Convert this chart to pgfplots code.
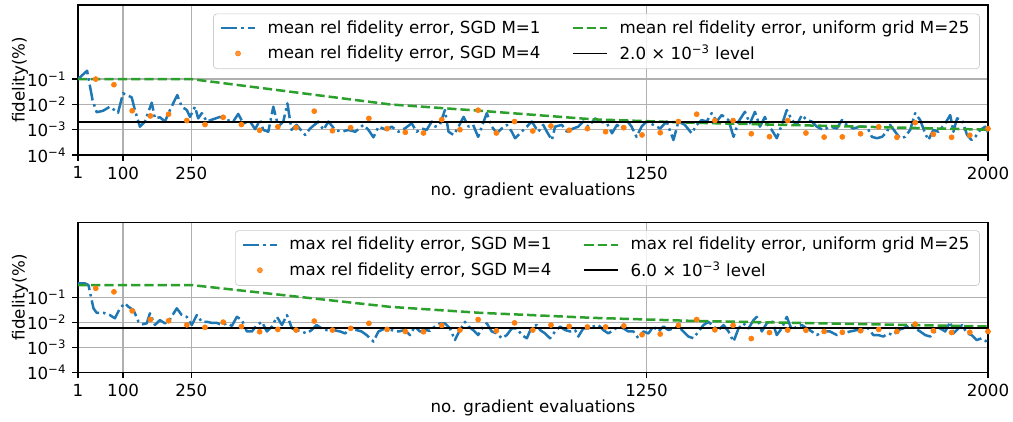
\documentclass[border=0pt]{standalone}
\usepackage{fontspec}
\setmainfont{DejaVu Sans}
\usepackage{pgfplots}
\pgfplotsset{compat=1.18}
\definecolor{tabblue}{HTML}{1F77B4}
\definecolor{taborange}{HTML}{FF7F0E}
\definecolor{tabgreen}{HTML}{2CA02C}
\definecolor{gridgray}{HTML}{B0B0B0}
\definecolor{leggray}{HTML}{CCCCCC}
\tikzset{
  blueline/.style={tabblue, line width=1.5pt, line join=round, dash pattern=on 9.6pt off 2.4pt on 1.5pt off 2.4pt},
  greenline/.style={tabgreen, line width=1.5pt, dash pattern=on 5.55pt off 2.4pt},
  blackline/.style={black, line width=1pt},
}
\pgfplotsset{
  legend image code/.code={\draw[mark repeat=2,mark phase=2,#1] plot coordinates {(0cm,0cm)(0.35cm,0cm)(0.7cm,0cm)};},
}
\begin{document}
\begin{tikzpicture}
\useasboundingbox (-46.8pt,-160.2pt) rectangle (561pt,93pt);
% ---------------- top ----------------
\begin{axis}[
    scale only axis, width=546pt, height=90pt,
    xmin=1, xmax=2000, ymode=log, ymin=1e-4, ymax=85,
    xtick={1,100,250,1250,2000}, xticklabels={1,100,250,1250,2000},
    ytick={1e-4,1e-3,1e-2,1e-1},
    yticklabels={10\textsuperscript{−4},10\textsuperscript{−3},10\textsuperscript{−2},10\textsuperscript{−1}},
    yminorticks=false,
    grid=major, major grid style={gridgray, line width=0.8pt},
    tick align=outside, tick pos=left,
    major tick length=3.5pt, major tick style={black, line width=0.8pt},
    axis line style={line width=0.8pt},
    xlabel={no. gradient evaluations}, ylabel={fidelity(\%)},
    xlabel style={at={(axis description cs:0.5,-0.27)}, anchor=base},
    ylabel style={at={(axis description cs:-0.0637,0.5)}, anchor=center},
    legend columns=2, transpose legend, legend cell align=left,
    legend style={at={(0.991,0.943)}, anchor=north east, draw=leggray,
      rounded corners=2pt, fill=white, fill opacity=0.8, text opacity=1,
      inner xsep=4pt, inner ysep=2pt, row sep=1.5pt,
      /tikz/every odd column/.append style={column sep=5pt},
      /tikz/every even column/.append style={column sep=17pt}},
    at={(0,0)}, anchor=south west]
\addplot[blueline] coordinates {
(1,0.1)(21,0.214)(33,0.0148)(42,4.9e-3)(56,5.6e-3)(71,8.1e-3)(89,4.7e-3)(100,0.0275)(119,0.019)(126,6.0e-3)(137,1.32e-3)(148,2.1e-3)(163,0.0117)(170,2.8e-3)(181,3.1e-3)(192,2.1e-3)(203,6.0e-3)(219,0.0234)(229,8.1e-3)(240,6.0e-3)(247,3.2e-3)(258,8.1e-3)(265,2.8e-3)(273,4.5e-3)(284,2.1e-3)(298,2.6e-3)(313,3.2e-3)(328,2.4e-3)(342,2.1e-3)(353,4.2e-3)(364,1.78e-3)(379,2.1e-3)(390,1.05e-3)(401,2.4e-3)(408,9.8e-4)(419,8.3e-4)(430,8.1e-3)(441,1.32e-3)(452,2.1e-3)(461,0.011)(470,9.8e-4)(481,1.55e-3)(500,6.2e-4)(511,1.12e-3)(529,2.1e-3)(540,9.8e-4)(551,2.1e-3)(566,9.8e-4)(580,8.3e-4)(595,9.8e-4)(610,8.3e-4)(628,1.55e-3)(639,9.8e-4)(650,5.0e-4)(661,1.32e-3)(679,9.8e-4)
(690,1.32e-3)(705,8.3e-4)(719,1.12e-3)(734,1.78e-3)(745,8.3e-4)(756,1.12e-3)(767,9.8e-4)(778,2.1e-3)(785,1.32e-3)(796,1.55e-3)(807,6.0e-3)(815,8.3e-4)(826,6.2e-4)(837,1.32e-3)(848,3.2e-3)(859,1.32e-3)(869,1.55e-3)(880,5.2e-4)(888,1.32e-3)(899,4.5e-3)(910,1.32e-3)(921,7.2e-4)(932,1.12e-3)(943,1.55e-3)(954,8.3e-4)(961,4.6e-4)(972,7.2e-4)(987,1.32e-3)(998,2.1e-3)(1012,8.3e-4)(1023,1.55e-3)(1031,8.3e-4)(1042,3.9e-4)(1049,1.32e-3)(1064,1.55e-3)(1075,8.3e-4)(1089,1.12e-3)(1100,1.32e-3)(1111,2.1e-3)(1122,1.32e-3)(1137,2.8e-3)(1148,2.1e-3)(1163,1.78e-3)(1174,7.2e-4)(1185,1.55e-3)(1195,1.12e-3)(1206,2.4e-3)(1217,1.32e-3)(1228,5.2e-4)(1239,1.32e-3)(1250,2.1e-3)(1265,1.55e-3)(1280,1.12e-3)(1294,2.1e-3)(1309,3.9e-4)(1320,2.1e-3)(1334,1.55e-3)
(1349,7.2e-4)(1360,1.55e-3)(1371,2.4e-3)(1382,2.1e-3)(1393,4.5e-3)(1404,2.1e-3)(1415,3.8e-3)(1430,2.4e-3)(1441,5.2e-4)(1452,2.1e-3)(1466,5.1e-3)(1477,1.78e-3)(1488,5.1e-3)(1499,1.32e-3)(1510,3.2e-3)(1518,1.32e-3)(1525,9.8e-4)(1536,4.6e-4)(1547,1.55e-3)(1558,6.0e-3)(1569,2.4e-3)(1580,1.55e-3)(1591,3.8e-3)(1602,2.4e-3)(1613,2.1e-3)(1624,1.32e-3)(1638,9.8e-4)(1653,1.32e-3)(1668,1.12e-3)(1679,2.4e-3)(1690,1.55e-3)(1704,1.12e-3)(1719,1.32e-3)(1734,1.32e-3)(1745,5.2e-4)(1756,4.6e-4)(1767,5.2e-4)(1778,8.3e-4)(1785,1.55e-3)(1796,8.3e-4)(1807,4.6e-4)(1818,5.2e-4)(1829,9.8e-4)(1840,4.5e-3)(1851,2.4e-3)(1862,7.2e-4)(1869,3.9e-4)(1880,9.8e-4)(1891,8.3e-4)(1906,1.78e-3)(1917,3.8e-3)(1924,8.3e-4)(1932,2.8e-3)(1943,2.4e-3)(1954,6.2e-4)(1964,3.9e-4)(1972,5.2e-4)(1983,9.8e-4)(1994,1.32e-3)(2000,7.9e-4)
};
\addlegendentry{mean rel fidelity error, SGD M=1}
\addplot[only marks, mark=*, mark size=1.5pt, color=taborange, mark options={draw=none, fill=taborange}] coordinates {
(40,0.1)(80,0.06)(120,5.6e-3)(160,3.5e-3)(200,4.1e-3)(240,2.3e-3)(280,1.6e-3)(320,3.1e-3)(360,1.6e-3)(400,9.5e-4)(440,1.3e-3)(480,1.2e-3)(520,5.4e-3)(560,9.1e-4)(600,1.2e-3)(640,2.8e-3)(680,1.1e-3)(720,7.9e-4)(760,7.4e-4)(800,2.5e-3)(840,1.0e-3)(880,5.9e-3)(920,7.4e-4)(960,2.1e-3)(1000,8.9e-4)(1040,1.4e-3)(1080,9.5e-4)(1120,1.1e-3)(1160,8.3e-4)(1200,1.2e-3)(1240,6.2e-4)(1280,7.6e-4)(1320,2.1e-3)(1360,4.1e-3)(1400,2.3e-3)(1440,2.3e-3)(1480,6.9e-4)(1520,5.3e-4)(1560,2.3e-3)(1600,7.4e-4)(1640,5.1e-4)(1680,5.2e-4)(1720,6.9e-4)(1760,1.3e-3)(1800,5.0e-4)(1840,1.9e-3)(1880,6.6e-4)(1920,5.0e-4)(1960,6.0e-4)(2000,1.1e-3)
};
\addlegendentry{mean rel fidelity error, SGD M=4}
\addplot[greenline] coordinates {(1,0.1)(250,0.1)(686,0.01)(884,5.6e-3)(1132,2.57e-3)(1345,1.9e-3)(2000,1.0e-3)};
\addlegendentry{mean rel fidelity error, uniform grid M=25}
\addplot[blackline] coordinates {(1,2e-3)(2000,2e-3)};
\addlegendentry{2.0 × 10\textsuperscript{−3} level}
\end{axis}
% ---------------- bottom ----------------
\begin{axis}[
    scale only axis, width=546pt, height=90pt,
    xmin=1, xmax=2000, ymode=log, ymin=1e-4, ymax=100,
    xtick={1,100,250,1250,2000}, xticklabels={1,100,250,1250,2000},
    ytick={1e-4,1e-3,1e-2,1e-1},
    yticklabels={10\textsuperscript{−4},10\textsuperscript{−3},10\textsuperscript{−2},10\textsuperscript{−1}},
    yminorticks=false,
    grid=major, major grid style={gridgray, line width=0.8pt},
    tick align=outside, tick pos=left,
    major tick length=3.5pt, major tick style={black, line width=0.8pt},
    axis line style={line width=0.8pt},
    xlabel={no. gradient evaluations}, ylabel={fidelity(\%)},
    xlabel style={at={(axis description cs:0.5,-0.265)}, anchor=base},
    ylabel style={at={(axis description cs:-0.0637,0.5)}, anchor=center},
    legend columns=2, transpose legend, legend cell align=left,
    legend style={at={(0.991,0.947)}, anchor=north east, draw=leggray,
      rounded corners=2pt, fill=white, fill opacity=0.8, text opacity=1,
      inner xsep=4pt, inner ysep=2pt, row sep=1.5pt,
      /tikz/every odd column/.append style={column sep=5pt},
      /tikz/every even column/.append style={column sep=17pt}},
    at={(0,-130.4pt)}, anchor=south west]
\addplot[blueline] coordinates {
(1,0.363)(16,0.363)(24,0.309)(35,0.0363)(42,0.024)(57,0.024)(71,0.0195)(82,0.0145)(93,0.0363)(104,0.0575)(112,0.0417)(123,0.0309)(134,0.0105)(141,8.3e-3)(152,9.1e-3)(159,0.0229)(170,7.8e-3)(181,0.0123)(192,9.1e-3)(203,0.0132)(218,0.0363)(229,0.0195)(240,0.0166)(251,7.8e-3)(262,0.0195)(273,0.0105)(284,0.0105)(295,9.5e-3)(306,9.5e-3)(317,7.8e-3)(328,9.1e-3)(339,7.2e-3)(350,0.0166)(361,0.0123)(372,4.3e-3)(383,4.3e-3)(394,7.8e-3)(405,0.0105)(416,4.3e-3)(427,6.8e-3)(438,0.0166)(449,7.8e-3)(460,0.0195)(471,5.75e-3)(481,4.9e-3)(492,4.3e-3)(503,3.6e-3)(514,4.9e-3)(525,7.8e-3)(536,5.75e-3)(547,4.9e-3)(562,4.9e-3)(577,4.3e-3)(588,3.6e-3)(599,5.75e-3)(613,4.9e-3)(624,4.3e-3)(635,3.1e-3)(650,1.7e-3)(661,4.3e-3)(676,5.75e-3)
(690,4.9e-3)(705,4.3e-3)(719,4.9e-3)(730,3.1e-3)(741,6.8e-3)(752,4.3e-3)(763,4.9e-3)(774,4.6e-3)(785,6.8e-3)(796,9.1e-3)(807,9.1e-3)(818,5.75e-3)(829,1.95e-3)(840,4.9e-3)(851,0.0105)(859,6.8e-3)(869,4.9e-3)(880,3.1e-3)(891,6.8e-3)(899,9.1e-3)(910,4.3e-3)(921,3.6e-3)(932,2.3e-3)(943,3.1e-3)(954,5.75e-3)(965,5.75e-3)(976,3.1e-3)(987,2.3e-3)(998,6.8e-3)(1009,7.8e-3)(1016,4.9e-3)(1027,3.6e-3)(1038,2.3e-3)(1049,4.3e-3)(1060,6.8e-3)(1071,4.9e-3)(1082,4.3e-3)(1093,4.9e-3)(1100,2.7e-3)(1111,5.75e-3)(1122,5.75e-3)(1133,6.8e-3)(1144,7.8e-3)(1155,4.9e-3)(1166,3.6e-3)(1177,4.9e-3)(1188,6.8e-3)(1199,5.75e-3)(1210,4.3e-3)(1221,4.3e-3)(1232,2.3e-3)(1243,4.3e-3)(1254,3.6e-3)(1265,6.8e-3)(1276,4.3e-3)(1287,6.8e-3)(1298,4.9e-3)(1309,5.75e-3)(1320,6.8e-3)(1331,4.3e-3)(1342,2.7e-3)
(1353,2.3e-3)(1364,4.3e-3)(1375,7.8e-3)(1386,0.0105)(1397,6.8e-3)(1408,4.9e-3)(1419,7.8e-3)(1430,4.3e-3)(1441,1.7e-3)(1452,5.75e-3)(1463,9.1e-3)(1474,5.75e-3)(1485,0.0123)(1492,0.0166)(1503,4.3e-3)(1514,9.1e-3)(1525,0.0123)(1536,3.1e-3)(1547,5.75e-3)(1558,0.0166)(1569,4.9e-3)(1580,6.8e-3)(1591,7.8e-3)(1602,5.75e-3)(1613,4.3e-3)(1624,3.1e-3)(1638,4.3e-3)(1653,4.3e-3)(1668,3.1e-3)(1682,3.6e-3)(1697,4.3e-3)(1712,4.9e-3)(1727,4.9e-3)(1737,5.75e-3)(1748,3.1e-3)(1759,3.1e-3)(1770,2.7e-3)(1781,3.6e-3)(1792,3.1e-3)(1803,4.9e-3)(1814,5.75e-3)(1829,7.8e-3)(1840,5.75e-3)(1851,4.3e-3)(1862,3.1e-3)(1873,2.7e-3)(1884,4.3e-3)(1895,5.75e-3)(1906,4.3e-3)(1917,0.0105)(1924,3.6e-3)(1935,5.75e-3)(1943,7.8e-3)(1954,3.6e-3)(1964,3.1e-3)(1975,1.95e-3)(1986,2.3e-3)(1997,1.7e-3)(2000,1.45e-3)
};
\addlegendentry{max rel fidelity error, SGD M=1}
\addplot[only marks, mark=*, mark size=1.5pt, color=taborange, mark options={draw=none, fill=taborange}] coordinates {
(40,0.229)(80,0.166)(120,0.0288)(160,0.0129)(200,0.0115)(240,7.9e-3)(280,6.3e-3)(320,0.0102)(360,6.8e-3)(400,4.2e-3)(440,5.2e-3)(480,4.9e-3)(520,0.0112)(560,4.9e-3)(600,5.75e-3)(640,9.1e-3)(680,5.2e-3)(720,4.3e-3)(760,4.2e-3)(800,7.6e-3)(840,4.9e-3)(880,0.0129)(920,4.6e-3)(960,9.5e-3)(1000,4.9e-3)(1040,7.8e-3)(1080,6.9e-3)(1120,6.5e-3)(1160,6.5e-3)(1200,7.2e-3)(1240,3.2e-3)(1280,3.4e-3)(1320,7.6e-3)(1360,0.0129)(1400,5.0e-3)(1440,7.6e-3)(1480,2.24e-3)(1520,3.9e-3)(1560,4.9e-3)(1600,4.8e-3)(1640,4.3e-3)(1680,4.0e-3)(1720,4.6e-3)(1760,5.2e-3)(1800,4.3e-3)(1840,8.5e-3)(1880,4.6e-3)(1920,3.9e-3)(1960,4.0e-3)(2000,4.3e-3)
};
\addlegendentry{max rel fidelity error, SGD M=4}
\addplot[greenline] coordinates {(1,0.31)(250,0.31)(686,0.0417)(884,0.024)(1132,0.0151)(1345,0.0115)(2000,6.8e-3)};
\addlegendentry{max rel fidelity error, uniform grid M=25}
\addplot[blackline] coordinates {(1,6e-3)(2000,6e-3)};
\addlegendentry{6.0 × 10\textsuperscript{−3} level}
\end{axis}
\end{tikzpicture}
\end{document}
